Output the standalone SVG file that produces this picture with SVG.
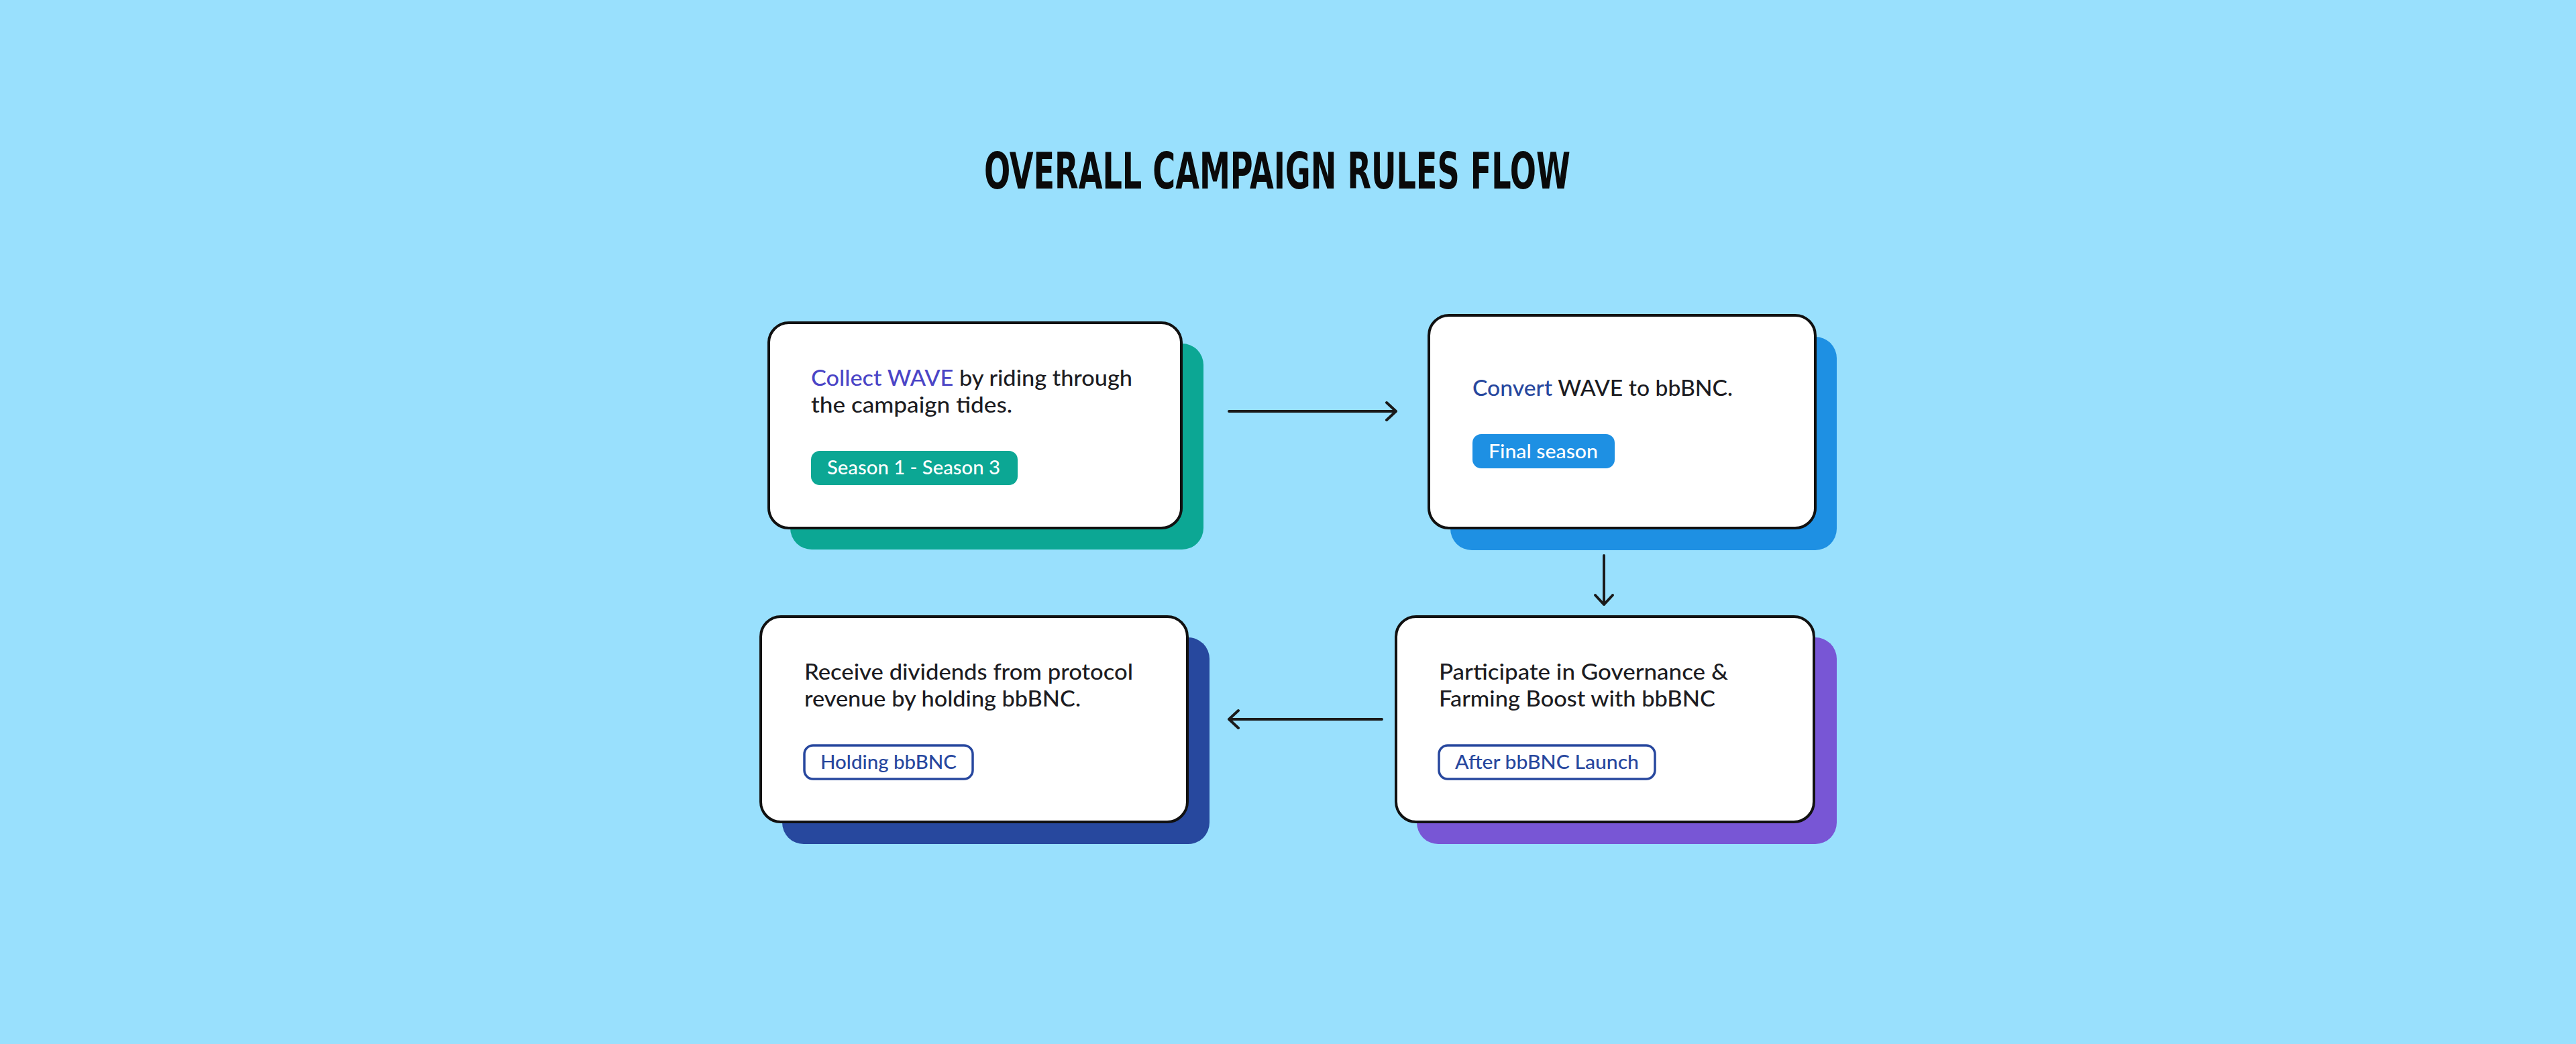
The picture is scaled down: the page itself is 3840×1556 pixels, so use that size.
<svg xmlns="http://www.w3.org/2000/svg" width="3840" height="1556" viewBox="0 0 3840 1556">
  <style>
    .card { fill: #ffffff; stroke: #111111; stroke-width: 4; }
    .body { font-family: "Lato", "Open Sans", sans-serif; font-size: 33px; fill: #1c1c22; font-weight: 500; }
    .pilltxt { font-family: "Lato", "Open Sans", sans-serif; font-size: 28.5px; font-weight: 500; }
    .conn { stroke: #1a1a1a; stroke-width: 4; fill: none; stroke-linecap: round; stroke-linejoin: round; }
    .title { font-family: "Liberation Sans Narrow", "DejaVu Sans Condensed", "Liberation Sans", sans-serif; font-size: 74px; font-weight: bold; fill: #0a0a0a; }
  </style>
  <rect x="0" y="0" width="3840" height="1556" fill="#99E0FD"/>
  <text class="title" x="1467" y="281" textLength="874" lengthAdjust="spacingAndGlyphs">OVERALL CAMPAIGN RULES FLOW</text>

  <g id="node-collect">
    <rect x="1178" y="512" width="616" height="307" rx="32" fill="#0CA794"/>
    <rect class="card" x="1146" y="481" width="615" height="306" rx="30"/>
    <text class="body" x="1209" y="575" textLength="479" lengthAdjust="spacingAndGlyphs"><tspan fill="#4B45C6">Collect WAVE</tspan> by riding through</text>
    <text class="body" x="1209" y="615" textLength="300" lengthAdjust="spacingAndGlyphs">the campaign tides.</text>
    <rect x="1209" y="672" width="308" height="51" rx="13" fill="#0CA794"/>
    <text class="pilltxt" x="1233" y="707" fill="#ffffff" textLength="258" lengthAdjust="spacingAndGlyphs">Season 1 - Season 3</text>
  </g>

  <g id="node-convert">
    <rect x="2162" y="502" width="576" height="318" rx="32" fill="#1E90E3"/>
    <rect class="card" x="2130" y="470" width="576" height="317" rx="30"/>
    <text class="body" x="2195" y="590" textLength="388" lengthAdjust="spacingAndGlyphs"><tspan fill="#27479E">Convert</tspan> WAVE to bbBNC.</text>
    <rect x="2195" y="647" width="212" height="51" rx="13" fill="#1E90E3"/>
    <text class="pilltxt" x="2219" y="683" fill="#ffffff" textLength="163" lengthAdjust="spacingAndGlyphs">Final season</text>
  </g>

  <g id="node-participate">
    <rect x="2112" y="950" width="626" height="308" rx="32" fill="#7856D5"/>
    <rect class="card" x="2081" y="919" width="623" height="306" rx="30"/>
    <text class="body" x="2145" y="1013" textLength="431" lengthAdjust="spacingAndGlyphs">Participate in Governance &amp;</text>
    <text class="body" x="2145" y="1053" textLength="412" lengthAdjust="spacingAndGlyphs">Farming Boost with bbBNC</text>
    <rect x="2145" y="1111" width="322" height="50" rx="13" fill="#ffffff" stroke="#27479E" stroke-width="3.5"/>
    <text class="pilltxt" x="2169" y="1146" fill="#27479E" textLength="274" lengthAdjust="spacingAndGlyphs">After bbBNC Launch</text>
  </g>

  <g id="node-receive">
    <rect x="1166" y="950" width="637" height="308" rx="32" fill="#27489E"/>
    <rect class="card" x="1134" y="919" width="636" height="306" rx="30"/>
    <text class="body" x="1199" y="1013" textLength="490" lengthAdjust="spacingAndGlyphs">Receive dividends from protocol</text>
    <text class="body" x="1199" y="1053" textLength="412" lengthAdjust="spacingAndGlyphs">revenue by holding bbBNC.</text>
    <rect x="1199" y="1111" width="251" height="50" rx="13" fill="#ffffff" stroke="#27479E" stroke-width="3.5"/>
    <text class="pilltxt" x="1223" y="1146" fill="#27479E" textLength="203" lengthAdjust="spacingAndGlyphs">Holding bbBNC</text>
  </g>

  <g id="connectors">
    <path class="conn" d="M1832 613 H2081 M2067 600 L2081 613 L2067 626"/>
    <path class="conn" d="M2391 828 V901 M2378 887 L2391 901 L2404 887"/>
    <path class="conn" d="M2060 1072 H1832 M1846 1059 L1832 1072 L1846 1085"/>
  </g>
</svg>
